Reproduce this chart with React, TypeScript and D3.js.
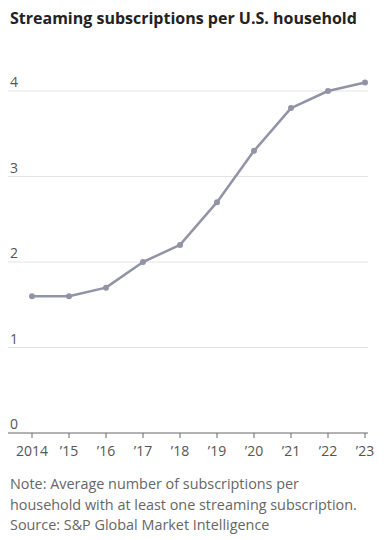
import React from "react";
import * as d3 from "d3";

const years = ["2014", "’15", "’16", "’17", "’18", "’19", "’20", "’21", "’22", "’23"];
const values = [1.6, 1.6, 1.7, 2.0, 2.2, 2.7, 3.3, 3.8, 4.0, 4.1];
const yTicks = [0, 1, 2, 3, 4];
const title = "Streaming subscriptions per U.S. household";
const notes = [
  "Note: Average number of subscriptions per",
  "household with at least one streaming subscription.",
  "Source: S&P Global Market Intelligence",
];

export default function App() {
  const W = 388, H = 540;
  const x = d3.scalePoint<string>().domain(years).range([32, 365]);
  const y = d3.scaleLinear().domain([0, 4]).range([433, 91]);
  const line = d3.line<number>().x((_, i) => x(years[i])!).y((d) => y(d));
  const font = "'Open Sans', sans-serif";
  return (
    <svg width={W} height={H} style={{ position: "absolute", left: 0, top: 0 }} fontFamily={font}>
      <rect width={W} height={H} fill="#fff" />
      <text x={10} y={24} fontSize={16} fontWeight={700} fill="#222">{title}</text>
      {yTicks.map((t) => (
        <g key={t}>
          {t > 0 && <line x1={8} x2={368} y1={y(t)} y2={y(t)} stroke="#e3e3e3" strokeWidth={1} />}
          <text x={10} y={y(t) - 4} fontSize={14} fill="#555">{t}</text>
        </g>
      ))}
      <line x1={8} x2={368} y1={y(0)} y2={y(0)} stroke="#666" strokeWidth={1} />
      {years.map((yr) => (
        <g key={yr}>
          <line x1={x(yr)} x2={x(yr)} y1={y(0)} y2={y(0) + 5} stroke="#666" strokeWidth={1} />
          <text x={x(yr)} y={456} fontSize={14} fill="#555" textAnchor="middle">{yr}</text>
        </g>
      ))}
      <path d={line(values) || ""} fill="none" stroke="#9293a6" strokeWidth={2.5} strokeLinejoin="round" />
      {values.map((v, i) => (
        <circle key={i} cx={x(years[i])} cy={y(v)} r={3} fill="#9293a6" />
      ))}
      {notes.map((n, i) => (
        <text key={i} x={10} y={489 + i * 20.5} fontSize={14.4} fill="#666">{n}</text>
      ))}
    </svg>
  );
}
